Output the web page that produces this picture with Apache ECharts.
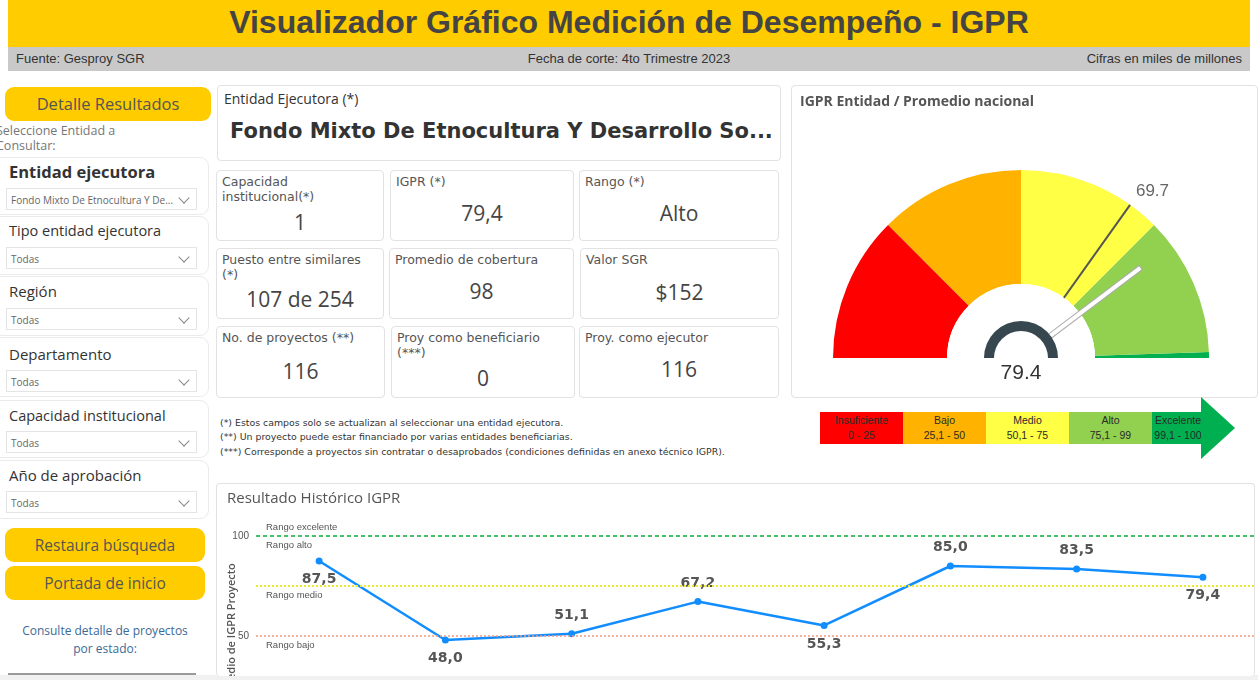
<!DOCTYPE html>
<html>
<head>
<meta charset="utf-8">
<script src="https://cdn.jsdelivr.net/npm/echarts@6/dist/echarts.min.js"></script>
<style>
  body { margin: 0; width: 1258px; height: 680px; overflow: hidden; background: #fff; font-family: "Open Sans", sans-serif; position: relative; }
  .abs { position: absolute; }
  .hdr { left: 8px; top: 0; width: 1242px; height: 47px; background: #ffcc00; }
  .hdr-title { left: 0; width: 1242px; top: 4px; text-align: center; font: bold 32px "Liberation Sans", sans-serif; color: #444; }
  .sub { left: 8px; top: 47px; width: 1242px; height: 24px; background: #c9c9c9; font: 13px "Liberation Sans", sans-serif; color: #333; line-height: 24px; }
  .btn { background: #ffcc00; border-radius: 9px; color: #555; text-align: center; }
  .filter { left: -10px; width: 217px; border: 1px solid #ebebeb; border-radius: 9px; background: #fff; }
  .ftitle { color: #333; white-space: nowrap; }
  .dd { left: 6px; width: 191px; height: 22px; border: 1px solid #e4e4e4; font-size: 10px; color: #666; line-height: 22px; padding-left: 4px; box-sizing: border-box; white-space: nowrap; }
  .chev { position: absolute; right: 8px; top: 5px; width: 7px; height: 7px; border-right: 1px solid #888; border-bottom: 1px solid #888; transform: rotate(45deg); }
  .card { border: 1px solid #e2e2e2; border-radius: 4px; background: #fff; box-sizing: border-box; }
  .klab { position: absolute; left: 5px; top: 3px; font: 12.5px "DejaVu Sans", sans-serif; color: #555; line-height: 15px; }
  .kval { position: absolute; left: 0; width: 100%; text-align: center; font-size: 21px; color: #444; }
  .note { left: 220px; font: 9.4px "DejaVu Sans", sans-serif; color: #333; }
  .box { top: 412px; height: 32px; width: 83px; text-align: center; font: 10.5px "Liberation Sans", sans-serif; color: #2a2a2a; line-height: 15px; padding-top: 1px; box-sizing: border-box; }
</style>
</head>
<body>
<!-- header -->
<div class="abs hdr"><div class="abs hdr-title">Visualizador Gráfico Medición de Desempeño - IGPR</div></div>
<div class="abs sub">
  <span class="abs" style="left:8px">Fuente: Gesproy SGR</span>
  <span class="abs" style="left:0;width:1242px;text-align:center">Fecha de corte: 4to Trimestre 2023</span>
  <span class="abs" style="right:8px">Cifras en miles de millones</span>
</div>

<!-- left panel -->
<div class="abs btn" style="left:5px;top:87px;width:206px;height:34px;line-height:34px;font-size:16.5px">Detalle Resultados</div>
<div class="abs" style="left:-4px;top:123px;font-size:12.5px;color:#777;line-height:15px">Seleccione Entidad a<br>Consultar:</div>

<div class="abs filter" style="top:157px;height:56px"></div>
<div class="abs ftitle" style="left:9px;top:160px;font-size:16.5px;font-weight:700">Entidad ejecutora</div>
<div class="abs dd" style="top:188px">Fondo Mixto De Etnocultura Y De...<span class="chev"></span></div>

<div class="abs filter" style="top:216px;height:57px"></div>
<div class="abs ftitle" style="left:9px;top:221px;font-size:14.5px">Tipo entidad ejecutora</div>
<div class="abs dd" style="top:247px">Todas<span class="chev"></span></div>

<div class="abs filter" style="top:276px;height:58px"></div>
<div class="abs ftitle" style="left:9px;top:281px;font-size:15px">Región</div>
<div class="abs dd" style="top:308px">Todas<span class="chev"></span></div>

<div class="abs filter" style="top:337px;height:58px"></div>
<div class="abs ftitle" style="left:9px;top:344px;font-size:15px">Departamento</div>
<div class="abs dd" style="top:370px">Todas<span class="chev"></span></div>

<div class="abs filter" style="top:400px;height:56px"></div>
<div class="abs ftitle" style="left:9px;top:406px;font-size:14.5px">Capacidad institucional</div>
<div class="abs dd" style="top:431px">Todas<span class="chev"></span></div>

<div class="abs filter" style="top:460px;height:57px"></div>
<div class="abs ftitle" style="left:9px;top:465px;font-size:15px">Año de aprobación</div>
<div class="abs dd" style="top:491px">Todas<span class="chev"></span></div>

<div class="abs btn" style="left:5px;top:528px;width:200px;height:34px;line-height:34px;font-size:15.5px">Restaura búsqueda</div>
<div class="abs btn" style="left:5px;top:566px;width:200px;height:34px;line-height:34px;font-size:15.5px">Portada de inicio</div>
<div class="abs" style="left:0;width:210px;top:622px;text-align:center;font-size:12px;color:#3b6a96;line-height:18px">Consulte detalle de proyectos<br>por estado:</div>

<!-- entity card -->
<div class="abs card" style="left:217px;top:85px;width:564px;height:76px">
  <div class="abs" style="left:6px;top:3px;font-size:14px;color:#333">Entidad Ejecutora (*)</div>
  <div class="abs" style="left:12px;top:33px;font:bold 21px 'DejaVu Sans',sans-serif;color:#333;white-space:nowrap">Fondo Mixto De Etnocultura Y Desarrollo So...</div>
</div>

<!-- KPI cards -->
<div class="abs card" style="left:216px;top:170px;width:168px;height:71px"><div class="klab">Capacidad<br>institucional(*)</div><div class="kval" style="top:37px">1</div></div>
<div class="abs card" style="left:390px;top:170px;width:184px;height:71px"><div class="klab">IGPR (*)</div><div class="kval" style="top:28px">79,4</div></div>
<div class="abs card" style="left:579px;top:170px;width:200px;height:71px"><div class="klab">Rango (*)</div><div class="kval" style="top:28px">Alto</div></div>

<div class="abs card" style="left:216px;top:248px;width:168px;height:71px"><div class="klab">Puesto entre similares<br>(*)</div><div class="kval" style="top:36px">107 de 254</div></div>
<div class="abs card" style="left:389px;top:248px;width:185px;height:71px"><div class="klab">Promedio de cobertura</div><div class="kval" style="top:28px">98</div></div>
<div class="abs card" style="left:580px;top:248px;width:199px;height:71px"><div class="klab">Valor SGR</div><div class="kval" style="top:29px">$152</div></div>

<div class="abs card" style="left:216px;top:326px;width:169px;height:72px"><div class="klab">No. de proyectos (**)</div><div class="kval" style="top:30px">116</div></div>
<div class="abs card" style="left:391px;top:326px;width:184px;height:72px"><div class="klab">Proy como beneficiario<br>(***)</div><div class="kval" style="top:37px">0</div></div>
<div class="abs card" style="left:579px;top:326px;width:200px;height:72px"><div class="klab">Proy. como ejecutor</div><div class="kval" style="top:28px">116</div></div>

<!-- notes -->
<div class="abs note" style="top:417px">(*) Estos campos solo se actualizan al seleccionar una entidad ejecutora.</div>
<div class="abs note" style="top:431px">(**) Un proyecto puede estar financiado por varias entidades beneficiarias.</div>
<div class="abs note" style="top:446px">(***) Corresponde a proyectos sin contratar o desaprobados (condiciones definidas en anexo técnico IGPR).</div>

<!-- gauge card -->
<div class="abs card" style="left:791px;top:85px;width:467px;height:313px"></div>
<div class="abs" id="gauge" style="left:791px;top:85px;width:467px;height:313px"></div>

<!-- range legend arrow -->
<div id="legend"></div>

<!-- history card -->
<div class="abs" style="left:0;top:675px;width:1258px;height:5px;background:#f1f1f1"></div>
<div class="abs" style="left:8px;top:673px;width:188px;height:2px;background:#9a9a9a"></div>
<div class="abs card" style="left:216px;top:483px;width:1039px;height:193px;overflow:hidden;border-bottom:none">
  <div id="hist" style="position:absolute;left:-1px;top:-1px;width:1060px;height:270px"></div>
</div>

<script>
// ---- data ----
const igprEntidad = 79.4;
const promedioNacional = 69.7;
const rangeLimits = [25, 50, 75, 99, 100];
const rangeColors = ['#ff0000', '#ffb300', '#ffff45', '#92d050', '#00b050'];
const rangeNames = ['Insuficiente', 'Bajo', 'Medio', 'Alto', 'Excelente'];
const rangeLabels = ['0 - 25', '25,1 - 50', '50,1 - 75', '75,1 - 99', '99,1 - 100'];

const periods = ['2016', '2017', '2018', '2019', '2020', '2021', '2022', '2023'];
const igprHist = [87.5, 48.0, 51.1, 67.2, 55.3, 85.0, 83.5, 79.4];
const labelSide = ['bottom', 'bottom', 'top', 'top', 'bottom', 'top', 'top', 'bottom'];

const refValues = [100, 100, 75, 50];
const refNames = ['Rango excelente', 'Rango alto', 'Rango medio', 'Rango bajo'];

const fmt = v => v.toFixed(1).replace('.', ',');

// legend arrow (html boxes)
const legend = document.getElementById('legend');
rangeNames.forEach((n, i) => {
  const d = document.createElement('div');
  d.className = 'abs box';
  d.style.left = (820 + i * 83) + 'px';
  d.style.background = rangeColors[i];
  if (i === 4) d.style.width = '52px';
  d.innerHTML = n + '<br>' + rangeLabels[i];
  legend.appendChild(d);
});
const tri = document.createElement('div');
tri.className = 'abs';
tri.style.cssText = 'left:1201px;top:397px;width:0;height:0;border-top:31px solid transparent;border-bottom:31px solid transparent;border-left:34px solid #00b050;';
legend.appendChild(tri);

// ---- gauge ----
const gauge = echarts.init(document.getElementById('gauge'));
const center = [230, 273];
const base = {
  type: 'gauge', startAngle: 180, endAngle: 0, min: 0, max: 100, center: center,
  splitLine: { show: false }, axisTick: { show: false }, axisLabel: { show: false },
  pointer: { show: false }, anchor: { show: false }, title: { show: false },
  detail: { show: false }, animation: false
};
const bandStops = rangeLimits.map((l, i) => [l / 100, rangeColors[i]]);
// label of the national average sits a bit outside the ring, just right of its line
const ang = (180 - promedioNacional * 1.8) * Math.PI / 180 - 0.05;
const lblR = 212;

gauge.setOption({
  title: { text: 'IGPR Entidad / Promedio nacional', left: 4, top: 5, textStyle: { fontSize: 14, fontWeight: 'bold', color: '#555', fontFamily: 'Open Sans' } },
  series: [
    Object.assign({}, base, { z: 1, radius: 188, axisLine: { lineStyle: { width: 114, color: bandStops } }, data: [{ value: 0 }] }),
    Object.assign({}, base, {
      z: 2, radius: 188, axisLine: { show: false },
      pointer: { show: true, icon: 'rect', length: 188, width: 2, itemStyle: { color: '#555' } },
      detail: { show: true, offsetCenter: [lblR * Math.cos(ang), -lblR * Math.sin(ang)], fontSize: 17, color: '#666', fontWeight: 'normal', formatter: v => v.toFixed(1) },
      data: [{ value: promedioNacional }]
    }),
    Object.assign({}, base, { z: 3, radius: 74, axisLine: { lineStyle: { width: 74, color: [[1, '#fff']] } }, data: [{ value: 0 }] }),
    Object.assign({}, base, {
      z: 4, radius: 150, axisLine: { show: false },
      pointer: { show: true, icon: 'rect', length: 150, width: 5, itemStyle: { color: '#fff', borderColor: '#aaa', borderWidth: 1 } },
      data: [{ value: igprEntidad }]
    }),
    Object.assign({}, base, { z: 5, radius: 37, startAngle: 180, endAngle: -180, axisLine: { lineStyle: { width: 37, color: [[1, '#fff']] } }, data: [{ value: 0 }] }),
    Object.assign({}, base, {
      z: 6, radius: 37, axisLine: { lineStyle: { width: 10, color: [[1, '#37474f']] } },
      detail: { show: true, offsetCenter: [0, 15], fontSize: 21, color: '#333', fontWeight: 'normal', formatter: v => v.toFixed(1) },
      data: [{ value: igprEntidad }]
    })
  ]
});

// ---- historical line ----
const hist = echarts.init(document.getElementById('hist'));
const refStyles = [
  { color: '#3fbf5f', type: [4, 3], width: 1.5 },
  { color: '#3fbf5f', type: [4, 3], width: 1.5 },
  { color: '#eeea2a', type: [2, 2], width: 2 },
  { color: '#f29a7c', type: [2, 2], width: 1.5 }
];
hist.setOption({
  animation: false,
  title: { text: 'Resultado Histórico IGPR', left: 6, top: 3, textStyle: { fontSize: 15, fontWeight: 'normal', color: '#555', fontFamily: 'Open Sans' } },
  grid: { left: 40, top: 53, width: 1010, height: 200, outerBoundsMode: 'none', containLabel: false },
  xAxis: { type: 'category', data: periods, boundaryGap: true, axisLine: { show: false }, axisTick: { show: false }, axisLabel: { show: false } },
  yAxis: {
    type: 'value', min: 0, max: 100, interval: 50,
    name: 'Promedio de IGPR Proyecto', nameLocation: 'middle', nameGap: 19, nameMoveOverlap: false,
    nameTextStyle: { fontSize: 11, fontWeight: 600, color: '#555', fontFamily: 'Open Sans' },
    axisLabel: { fontSize: 10, color: '#555', margin: 7 },
    splitLine: { show: false }, axisLine: { show: false }, axisTick: { show: false }
  },
  series: [{
    type: 'line',
    data: igprHist.map((v, i) => ({ value: v, label: { position: labelSide[i] } })),
    color: '#118dff',
    lineStyle: { width: 2.5 },
    symbol: 'circle', symbolSize: 7,
    label: { show: true, formatter: p => fmt(p.value), fontSize: 14, fontWeight: 'bold', color: '#555', distance: 8, fontFamily: 'DejaVu Sans' },
    markLine: {
      silent: true, symbol: 'none',
      data: refValues.map((v, i) => ({
        yAxis: v,
        lineStyle: refStyles[i],
        label: { formatter: refNames[i], position: i === 0 ? 'insideStartTop' : 'insideStartBottom', distance: [10, 4], fontSize: 9.5, color: '#555' }
      }))
    }
  }]
});
</script>
</body>
</html>
